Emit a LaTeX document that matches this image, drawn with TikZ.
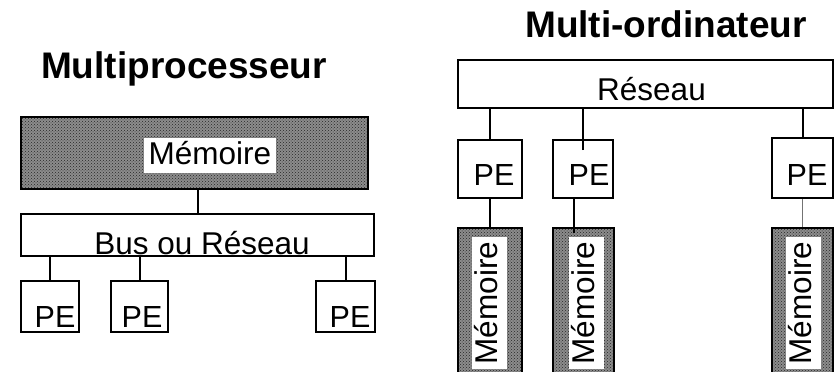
\documentclass[tikz,border=0pt]{standalone}
\usepackage{fontspec}
\setmainfont{Liberation Sans}
\usetikzlibrary{patterns}
\begin{document}
\begin{tikzpicture}[x=1pt,y=-1pt,
  box/.style={draw,line width=2pt,rectangle,inner sep=0pt,fill=white},
  mem/.style={draw,line width=2.5pt,rectangle,inner sep=0pt,preaction={fill=black!45},pattern=crosshatch dots,pattern color=black!85},
  lbl/.style={font=\fontsize{31.5}{38}\selectfont,inner sep=0pt},
  pelbl/.style={font=\fontsize{30.5}{36}\selectfont,inner sep=0pt,anchor=base},
  wlbl/.style={lbl,fill=white,inner xsep=5pt,inner ysep=3pt,text height=23pt,text depth=6pt},
  ttl/.style={font=\fontsize{37}{44}\selectfont\bfseries,inner sep=0pt,anchor=base},
  wire/.style={line width=2pt}]
\clip (0,0) rectangle (835,372);
% titles
\node[ttl] (tl) at (184,78) {Multiprocesseur};
\node[ttl] (tr) at (666,37) {Multi-ordinateur};
% ---- left: multiprocesseur
\node[mem,minimum width=347pt,minimum height=72pt] (memL) at (194.5,153) {};
\node[wlbl] (memLt) at (210,155.5) {Mémoire};
\node[box,minimum width=353pt,minimum height=42pt] (bus) at (197.5,235) {};
\node[lbl,anchor=base] (busT) at (202,254.5) {Bus ou Réseau};
\draw[wire] (bus.north) -- (bus.north |- memL.south);
\node[box,minimum width=58pt,minimum height=51pt] (pl1) at (50,306.5) {};
\node[box,minimum width=57pt,minimum height=51pt] (pl2) at (139.5,306.5) {};
\node[box,minimum width=59pt,minimum height=51pt] (pl3) at (345.5,306.5) {};
\node[pelbl] (pl1t) at (55,327) {PE};
\node[pelbl] (pl2t) at (142,327) {PE};
\node[pelbl] (pl3t) at (350,327) {PE};
\draw[wire] (pl1.north) -- (pl1.north |- bus.south);
\draw[wire] (pl2.north) -- (pl2.north |- bus.south);
\draw[wire] (pl3.north) -- (pl3.north |- bus.south);
% ---- right: multi-ordinateur
\node[box,minimum width=375pt,minimum height=48pt] (net) at (645.5,84) {};
\node[lbl,anchor=base] (netT) at (651.5,100.5) {Réseau};
\node[box,minimum width=64pt,minimum height=58pt] (pr1) at (490,169) {};
\node[box,minimum width=60pt,minimum height=58pt] (pr2) at (583,169) {};
\node[box,minimum width=61pt,minimum height=60pt] (pr3) at (802.5,168) {};
\node[pelbl] (pr1t) at (494,185) {PE};
\node[pelbl] (pr2t) at (589,185) {PE};
\node[pelbl] (pr3t) at (807,185) {PE};
\draw[wire] (pr1.north) -- (pr1.north |- net.south);
\coordinate (c2) at (583,150);
\draw[wire] (c2) -- (c2 |- net.south);
\draw[wire] (pr3.north) -- (pr3.north |- net.south);
\node[mem,minimum width=64pt,minimum height=150pt] (mr1) at (490,303) {};
\node[mem,minimum width=61pt,minimum height=150pt] (mr2) at (583.5,303) {};
\node[mem,minimum width=61pt,minimum height=150pt] (mr3) at (802.5,303) {};
\node[wlbl,rotate=90] (mr1t) at (489,303) {Mémoire};
\node[wlbl,rotate=90] (mr2t) at (586,303) {Mémoire};
\node[wlbl,rotate=90] (mr3t) at (803,303) {Mémoire};
\draw[wire] (pr1.south) -- (mr1.north);
\coordinate (c2b) at (574,233);
\draw[wire] (c2b) -- (c2b |- pr2.south);
\draw[line width=1pt,black!55] (pr3.south) -- (mr3.north);
\end{tikzpicture}
\end{document}
